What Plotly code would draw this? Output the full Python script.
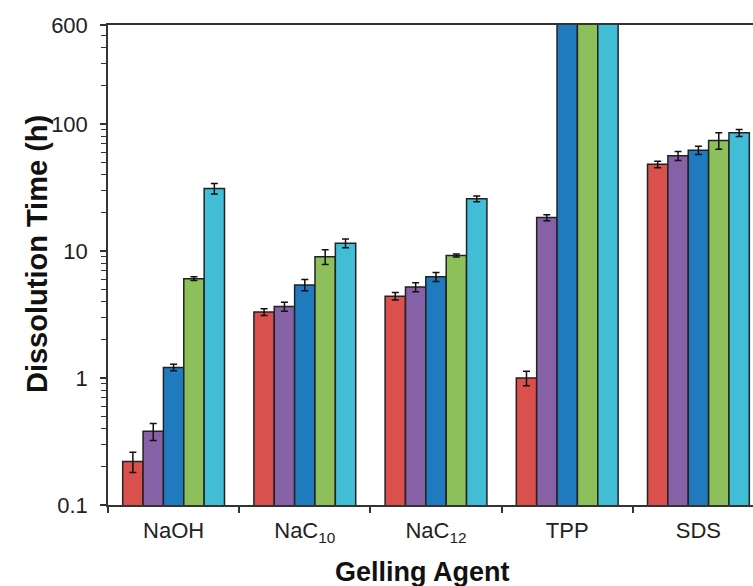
import math
import plotly.graph_objects as go

categories = ["NaOH", "NaC<sub>10</sub>", "NaC<sub>12</sub>", "TPP", "SDS"]
series_names = ["S1", "S2", "S3", "S4", "S5"]
colors = ["#D9504C", "#8761A5", "#1F7BBE", "#8DC05A", "#41BDD5"]

# values (h); TPP series 3-5 exceed the 600 h axis limit (off-scale)
s1 = [0.22, 3.3, 4.4, 1.0, 48]
s2 = [0.38, 3.65, 5.2, 18.3, 56]
s3 = [1.21, 5.4, 6.25, 1000, 62]
s4 = [6.05, 9.0, 9.2, 1000, 74]
s5 = [31, 11.5, 25.7, 1000, 85]

e1 = [0.04, 0.2, 0.3, 0.13, 2.8]
e2 = [0.058, 0.3, 0.42, 1.0, 4.5]
e3 = [0.07, 0.55, 0.5, float("nan"), 4.7]
e4 = [0.2, 1.2, 0.25, float("nan"), 11]
e5 = [3.0, 0.9, 1.3, float("nan"), 5.4]

y_tickvals = [0.1, 1, 10, 100, 600]
y_ticktext = ["0.1", "1", "10", "100", "600"]
y_minor = [0.2, 0.3, 0.4, 0.5, 0.6, 0.7, 0.8, 0.9,
           2, 3, 4, 5, 6, 7, 8, 9,
           20, 30, 40, 50, 60, 70, 80, 90,
           200, 300, 400, 500]

series = [s1, s2, s3, s4, s5]
errors = [e1, e2, e3, e4, e5]

fig = go.Figure()
for name, vals, errs, col in zip(series_names, series, errors, colors):
    fig.add_trace(go.Bar(
        x=categories, y=vals, name=name,
        marker=dict(color=col, line=dict(color="#222222", width=1.5)),
        error_y=dict(type="data", array=errs, visible=True,
                     color="#111111", thickness=1.5, width=3.5),
    ))

tick_font = dict(family="Liberation Sans, Arial, sans-serif", size=22, color="#222222")

fig.update_layout(
    width=753, height=586,
    margin=dict(l=108, r=0, t=25, b=81),
    paper_bgcolor="white", plot_bgcolor="white",
    barmode="group", bargap=0.224, bargroupgap=0,
    showlegend=False,
    xaxis=dict(
        type="category", range=[-0.5, 4.416],
        showline=True, linecolor="#333333", linewidth=1.5, mirror=True,
        ticks="outside", tickson="boundaries", ticklen=6, tickwidth=1.5, tickcolor="#333333",
        tickfont=tick_font, ticklabelstandoff=5, showgrid=False,
    ),
    yaxis=dict(
        type="log", range=[-1, math.log10(600)],
        showline=True, linecolor="#333333", linewidth=1.5, mirror=False,
        tickvals=y_tickvals, ticktext=y_ticktext,
        ticks="outside", ticklen=6, tickwidth=1.5, tickcolor="#333333",
        minor=dict(tickvals=y_minor, ticks="outside", ticklen=5, tickwidth=1.2, tickcolor="#333333", showgrid=False),
        tickfont=tick_font, ticklabelstandoff=8, showgrid=False, zeroline=False,
    ),
    annotations=[
        dict(text="<b>Dissolution Time (h)</b>", xref="paper", yref="paper",
             x=-0.110, y=0.523, xanchor="center", yanchor="middle", textangle=-90,
             showarrow=False, font=dict(family="Liberation Sans, Arial, sans-serif", size=29, color="#111111")),
        dict(text="<b>Gelling Agent</b>", xref="paper", yref="paper",
             x=0.488, y=-0.1396, xanchor="center", yanchor="middle",
             showarrow=False, font=dict(family="Liberation Sans, Arial, sans-serif", size=27, color="#111111")),
    ],
)

fig.write_html("out.html", config={"displayModeBar": False},
               post_script="document.body.style.margin='0';")
